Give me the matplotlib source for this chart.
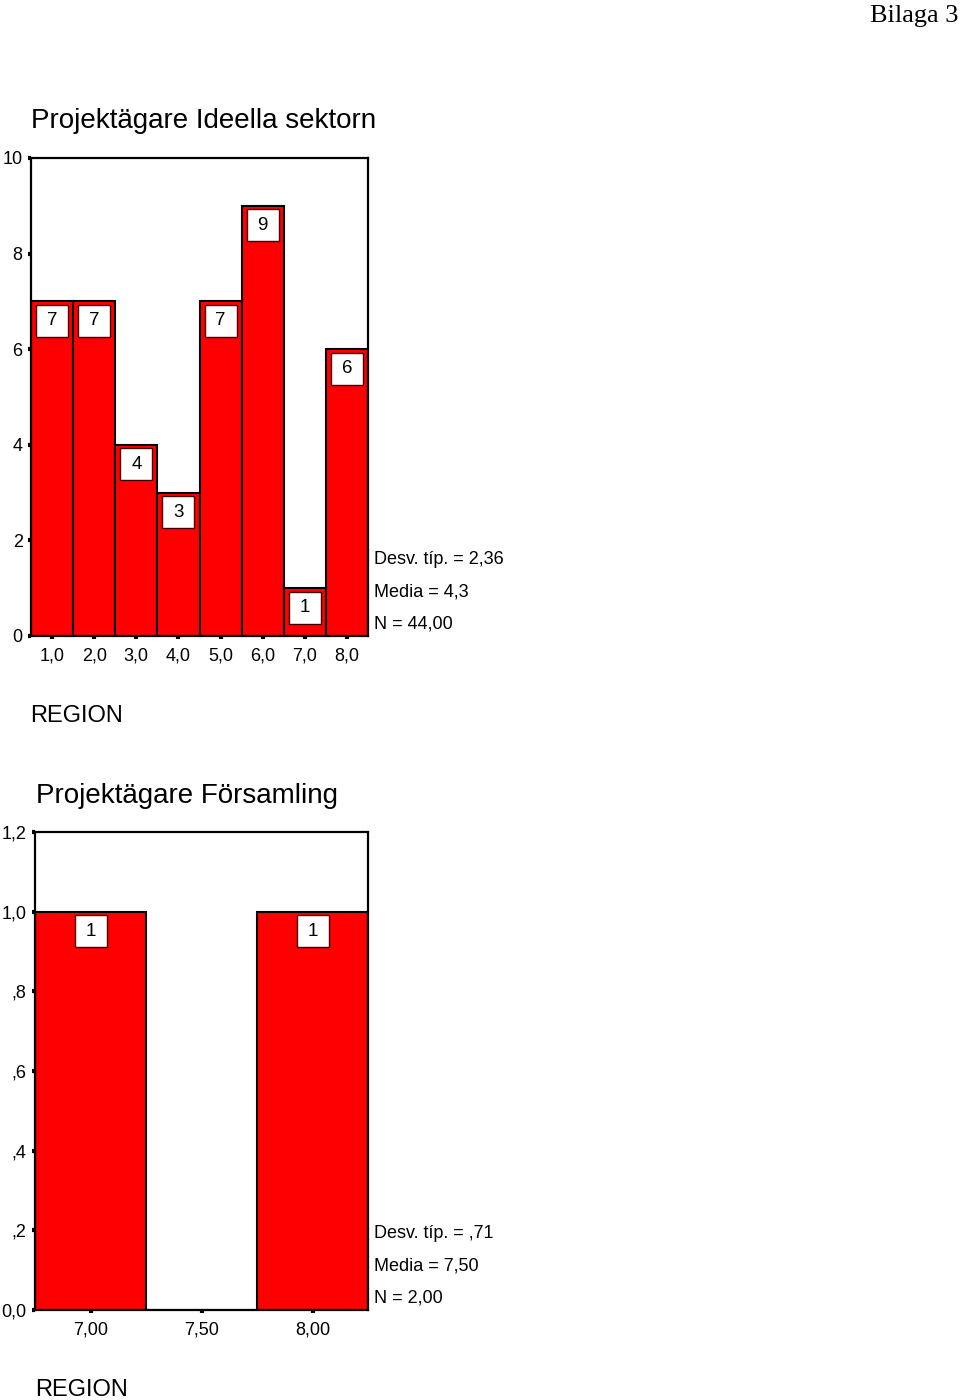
import matplotlib.pyplot as plt
import matplotlib.transforms as mtransforms

plt.rcParams["font.family"] = ["Liberation Sans", "DejaVu Sans"]

# Chart 1: Projektägare Ideella sektorn
region1 = [1, 2, 3, 4, 5, 6, 7, 8]
counts1 = [7, 7, 4, 3, 7, 9, 1, 6]
xlabels1 = ["1,0", "2,0", "3,0", "4,0", "5,0", "6,0", "7,0", "8,0"]
yticks1 = [0, 2, 4, 6, 8, 10]
ylabels1 = ["0", "2", "4", "6", "8", "10"]
stats1 = ["Desv. típ. = 2,36", "Media = 4,3", "N = 44,00"]

# Chart 2: Projektägare Församling
region2 = [7.0, 7.5, 8.0]
counts2 = [1, 0, 1]
xlabels2 = ["7,00", "7,50", "8,00"]
yticks2 = [0, 0.2, 0.4, 0.6, 0.8, 1.0, 1.2]
ylabels2 = ["0,0", ",2", ",4", ",6", ",8", "1,0", "1,2"]
stats2 = ["Desv. típ. = ,71", "Media = 7,50", "N = 2,00"]

W, H = 960, 1400
fig = plt.figure(figsize=(W / 100, H / 100), dpi=100)


def px_axes(x0, y0, x1, y1):
    return fig.add_axes([x0 / W, 1 - y1 / H, (x1 - x0) / W, (y1 - y0) / H])


def histogram(ax, xs, ys, width, xlim, ylim, yticks, ylabels, xlabels):
    ax.bar(xs, ys, width=width, color="#ff0000", edgecolor="black", linewidth=1.5)
    ax.set_xlim(*xlim)
    ax.set_ylim(*ylim)
    ax.set_xticks(xs)
    ax.set_xticklabels(xlabels)
    ax.set_yticks(yticks)
    ax.set_yticklabels(ylabels)
    ax.tick_params(length=2.5, width=3, labelsize=13, color="black")
    ax.tick_params(axis="y", pad=3.5)
    ax.tick_params(axis="x", pad=6)
    for sp in ax.spines.values():
        sp.set_linewidth(1.6)
    off = mtransforms.offset_copy(ax.transData, fig=fig, y=-14, units="points")
    for x, v in zip(xs, ys):
        if v <= 0:
            continue
        ax.plot([x], [v], marker="s", markersize=23.5, markerfacecolor="white",
                markeredgecolor="#400000", markeredgewidth=1, transform=off,
                clip_on=False, zorder=5)
        ax.text(x, v, str(v), transform=off, ha="center", va="center",
                fontsize=13.5, zorder=6)


ax1 = px_axes(31, 158, 368, 636)
histogram(ax1, region1, counts1, 1.0, (0.5, 8.5), (0, 10), yticks1, ylabels1, xlabels1)

ax2 = px_axes(35, 832, 368, 1310)
histogram(ax2, region2, counts2, 0.5, (6.75, 8.25), (0, 1.2), yticks2, ylabels2, xlabels2)

fig.text(31 / W, 1 - 121 / H, "Projektägare Ideella sektorn", fontsize=20, va="center")
fig.text(36 / W, 1 - 796 / H, "Projektägare Församling", fontsize=20, va="center")
fig.text(30 / W, 1 - 716 / H, "REGION", fontsize=17, va="center")
fig.text(35 / W, 1 - 1390 / H, "REGION", fontsize=17, va="center")

for i, s in enumerate(stats1):
    fig.text(374 / W, 1 - (560 + 32 * i) / H, s, fontsize=13, va="center")
for i, s in enumerate(stats2):
    fig.text(374 / W, 1 - (1234 + 32 * i) / H, s, fontsize=13, va="center")

fig.text(958 / W, 1 - 16 / H, "Bilaga 3", fontsize=19, ha="right", va="center",
         family="Liberation Serif")

fig.savefig("out.png", dpi=100)
